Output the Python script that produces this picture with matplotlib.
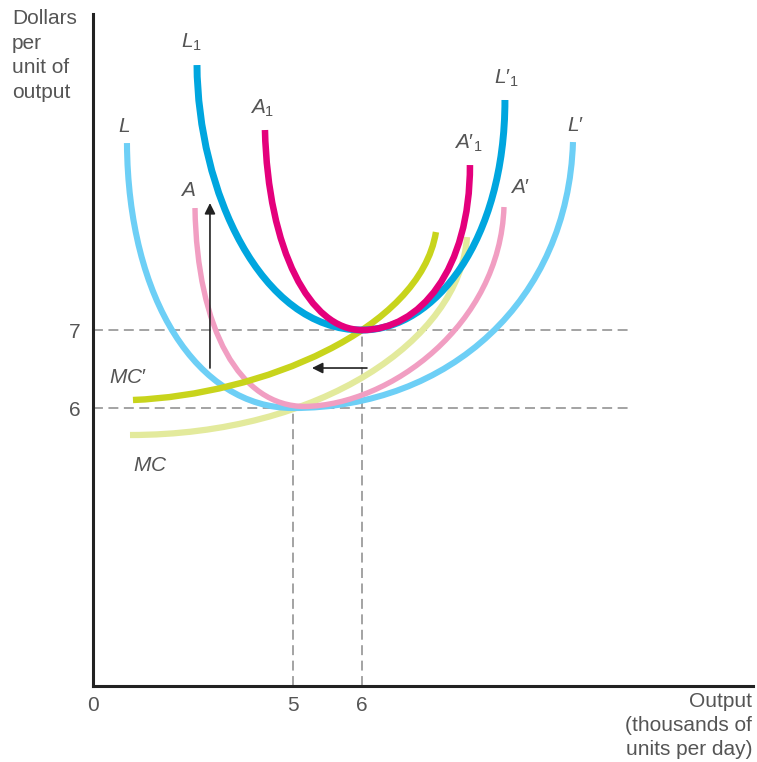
import matplotlib
matplotlib.use("Agg")
import matplotlib.pyplot as plt
from matplotlib.path import Path
from matplotlib.patches import PathPatch

plt.rcParams['font.family'] = ['Liberation Sans', 'DejaVu Sans']
plt.rcParams['mathtext.fontset'] = 'custom'
plt.rcParams['mathtext.rm'] = 'Liberation Sans'
plt.rcParams['mathtext.it'] = 'Liberation Sans:italic'

# ---- data (output in thousands/day, dollars per unit) ----
# each curve: two cubic Bezier segments -> start, ctrl, ctrl, end, ctrl, ctrl, end
L_x  = [2.594, 2.609, 3.620, 5.000, 7.275, 8.986, 9.058]
L_y  = [9.397, 7.385, 6.000, 6.000, 6.000, 7.385, 9.410]
L1_x = [3.609, 3.623, 4.522, 6.000, 7.058, 8.072, 8.072]
L1_y = [10.397, 8.795, 7.000, 7.000, 7.000, 8.154, 9.949]
A1_x = [4.594, 4.638, 5.246, 6.000, 6.841, 7.565, 7.565]
A1_y = [9.564, 8.026, 7.000, 7.000, 7.000, 7.769, 9.115]
A_x  = [3.580, 3.609, 4.232, 5.174, 6.406, 7.999, 8.058]
A_y  = [8.564, 7.000, 6.020, 6.020, 6.038, 7.064, 8.577]
# marginal cost curves: one cubic Bezier segment
MCp_x = [2.681, 4.522, 6.841, 7.072]
MCp_y = [6.103, 6.167, 7.000, 8.256]
MC_x  = [2.638, 5.391, 7.420, 7.522]
MC_y  = [5.654, 5.654, 6.872, 8.192]

x_ticks = [5, 6]
y_ticks = [6, 7]
origin_x, origin_y = 2.101, 2.436

fig = plt.figure(figsize=(7.57, 7.62), dpi=100)
ax = fig.add_axes([0, 0, 1, 1])
ax.set_xlim(0.754, 11.725)
ax.set_ylim(1.462, 11.231)
ax.patch.set_alpha(0)

def bez(xs, ys, color, lw, z):
    n = len(xs)
    codes = [Path.MOVETO] + [Path.CURVE4] * (n - 1)
    p = Path(list(zip(xs, ys)), codes)
    ax.add_patch(PathPatch(p, fill=False, edgecolor=color, lw=lw,
                           capstyle='butt', joinstyle='round', zorder=z))

# dashed guide lines
dash_kw = dict(color='#8a8a8a', lw=1.1, ls=(0, (6.5, 3.6)), zorder=1)
for yv in y_ticks:
    ax.plot([origin_x, 9.884], [yv, yv], **dash_kw)
ax.plot([x_ticks[0], x_ticks[0]], [origin_y, y_ticks[0]], **dash_kw)
ax.plot([x_ticks[1], x_ticks[1]], [origin_y, y_ticks[1]], **dash_kw)

bez(MC_x, MC_y, '#e3ea9c', 4.5, 2)
bez(L_x, L_y, '#6dcff6', 4.4, 3)
bez(A_x, A_y, '#f19ec2', 3.9, 4)
bez(MCp_x, MCp_y, '#c8d41c', 4.6, 5)
bez(L1_x, L1_y, '#00a6df', 5.0, 6)
bez(A1_x, A1_y, '#e4007c', 4.7, 7)

# arrows
arr = dict(arrowstyle='-|>', color='#222222', lw=1.2, mutation_scale=16,
           shrinkA=0, shrinkB=0)
ax.annotate('', xy=(3.797, 8.628), xytext=(3.797, 6.513), arrowprops=arr, zorder=8)
ax.annotate('', xy=(5.275, 6.513), xytext=(6.072, 6.513), arrowprops=arr, zorder=8)

# axes
for s in ['top', 'right']:
    ax.spines[s].set_visible(False)
ax.spines['left'].set_position(('data', origin_x))
ax.spines['bottom'].set_position(('data', origin_y))
ax.spines['left'].set_bounds(origin_y, 11.05)
ax.spines['bottom'].set_bounds(origin_x, 11.667)
for s in ['left', 'bottom']:
    ax.spines[s].set_linewidth(2.2)
    ax.spines[s].set_color('#222222')
    ax.spines[s].set_zorder(9)
ax.set_xticks([origin_x] + x_ticks, ['0'] + [str(v) for v in x_ticks])
ax.set_yticks(y_ticks, [str(v) for v in y_ticks])
ax.tick_params(length=0, labelsize=15, labelcolor='#555555')
ax.tick_params(axis='x', pad=7)
ax.tick_params(axis='y', pad=9)

# curve labels
lab = dict(fontsize=15, color='#555555', ha='center', va='center')
ax.text(2.551, 9.603, r'$L$', **lab)
ax.text(3.536, 10.692, r'$L_1$', **lab)
ax.text(4.551, 9.846, r'$A_1$', **lab)
ax.text(3.478, 8.795, r'$A$', **lab)
ax.text(8.101, 10.231, r"$L\prime_1$", **lab)
ax.text(7.536, 9.397, r"$A\prime_1$", **lab)
ax.text(8.290, 8.833, r"$A\prime$", **lab)
ax.text(9.101, 9.628, r"$L\prime$", **lab)
ax.text(2.609, 6.385, r"$MC\prime$", **lab)
ax.text(2.928, 5.269, r'$MC$', **lab)

fig.text(12 / 757, 1 - 9 / 762, 'Dollars\nper\nunit of\noutput', ha='left', va='top',
         fontsize=15, color='#555555', linespacing=1.38)
fig.text(752 / 757, 3 / 762, 'Output\n(thousands of\nunits per day)', ha='right',
         va='bottom', fontsize=15, color='#555555', linespacing=1.33, multialignment='right')

fig.savefig('out.png', dpi=100)
